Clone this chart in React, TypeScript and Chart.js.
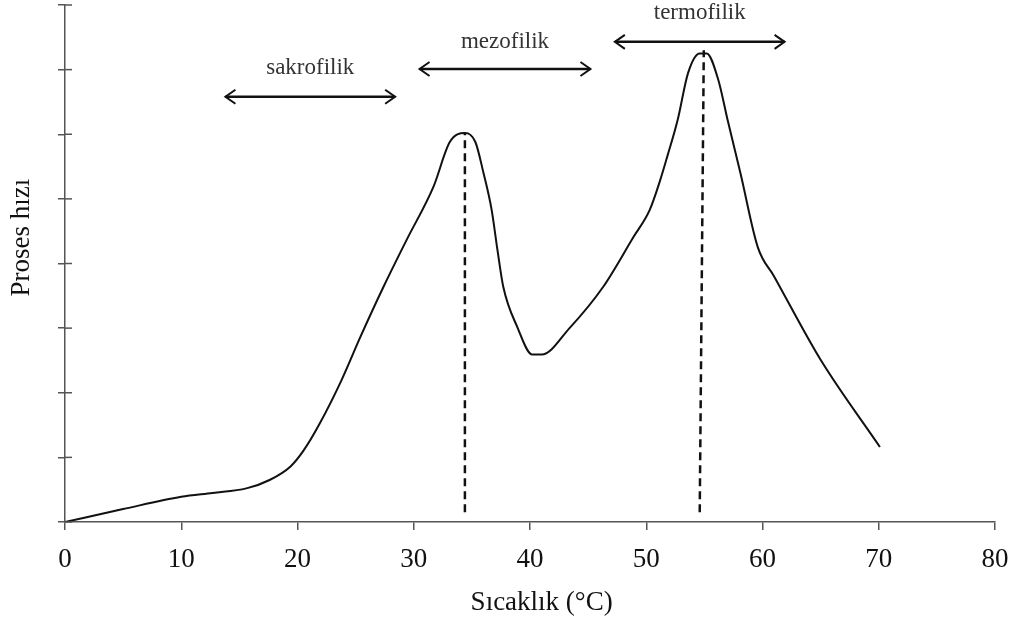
import React, { useEffect, useRef } from "react";
import { Chart, registerables } from "chart.js";

Chart.register(...registerables);

const temps = [0, 5, 10, 12.7, 15.6, 17.6, 19.4, 20.5, 21.9, 23.8, 25.4, 27.4, 29.4, 31.7, 33.1, 34.4, 35.3, 36.0, 36.7, 37.2, 37.7, 38.9, 40.2, 41.0, 43.4, 46.3, 48.9, 50.3, 51.2, 51.8, 52.7, 53.6, 54.6, 55.2, 56.2, 57.0, 58.1, 59.6, 61.0, 65.0, 70.1];
const rates = [0, 0.2, 0.39, 0.45, 0.52, 0.65, 0.86, 1.1, 1.52, 2.2, 2.86, 3.64, 4.37, 5.19, 5.88, 6.02, 5.88, 5.4, 4.83, 4.21, 3.64, 3.02, 2.59, 2.59, 3.0, 3.64, 4.41, 4.83, 5.29, 5.65, 6.22, 6.95, 7.25, 7.25, 6.84, 6.22, 5.4, 4.25, 3.8, 2.51, 1.16];

const peak1X = [34.4, 34.4];
const peak1Y = [0.15, 6.02];
const peak2X = [54.6, 54.95];
const peak2Y = [0.15, 7.3];

const zoneNames = ["sakrofilik", "mezofilik", "termofilik"];
const zoneStart = [13.8, 30.5, 47.3];
const zoneEnd = [28.4, 45.2, 61.9];
const zoneLevel = [6.58, 7.01, 7.43];
const labelLevel = [7.03, 7.43, 7.88];

const xTicks = [0, 10, 20, 30, 40, 50, 60, 70, 80];
const xTitle = "Sıcaklık (°C)";
const yTitle = "Proses hızı";

const serif = "'Liberation Serif', 'Times New Roman', serif";

export default function App() {
  const ref = useRef<HTMLCanvasElement | null>(null);

  useEffect(() => {
    document.body.style.margin = "0";
    const canvas = ref.current;
    if (!canvas) return;

    const annotations = {
      id: "annotations",
      afterDraw(chart: any) {
        const ctx = chart.ctx;
        const xs = chart.scales.x;
        const ys = chart.scales.y;
        ctx.save();
        // inner half of y ticks
        ctx.strokeStyle = "#555";
        ctx.lineWidth = 1.5;
        for (let v = 0; v <= 8; v++) {
          const py = ys.getPixelForValue(v);
          ctx.beginPath();
          ctx.moveTo(xs.left, py);
          ctx.lineTo(xs.left + 7, py);
          ctx.stroke();
        }
        // axis titles
        ctx.fillStyle = "#111";
        ctx.textAlign = "center";
        ctx.textBaseline = "middle";
        ctx.font = `27px ${serif}`;
        ctx.fillText(xTitle, xs.getPixelForValue(41), 603);
        ctx.save();
        ctx.translate(22, ys.getPixelForValue(4.4));
        ctx.rotate(-Math.PI / 2);
        ctx.fillText(yTitle, 0, 0);
        ctx.restore();
        // arrows
        ctx.strokeStyle = "#111";
        ctx.fillStyle = "#333";
        for (let i = 0; i < zoneNames.length; i++) {
          const x1 = xs.getPixelForValue(zoneStart[i]);
          const x2 = xs.getPixelForValue(zoneEnd[i]);
          const py = ys.getPixelForValue(zoneLevel[i]);
          ctx.lineWidth = 2.5;
          ctx.beginPath();
          ctx.moveTo(x1, py);
          ctx.lineTo(x2, py);
          ctx.stroke();
          ctx.lineWidth = 2;
          ctx.beginPath();
          ctx.moveTo(x1 + 10, py - 7);
          ctx.lineTo(x1, py);
          ctx.lineTo(x1 + 10, py + 7);
          ctx.moveTo(x2 - 10, py - 7);
          ctx.lineTo(x2, py);
          ctx.lineTo(x2 - 10, py + 7);
          ctx.stroke();
          ctx.font = `23px ${serif}`;
          ctx.textAlign = "center";
          ctx.textBaseline = "middle";
          ctx.fillText(zoneNames[i], (x1 + x2) / 2, ys.getPixelForValue(labelLevel[i]));
        }
        ctx.restore();
      },
    };

    const chart = new Chart(canvas, {
      type: "line",
      data: {
        datasets: [
          {
            data: temps.map((t, i) => ({ x: t, y: rates[i] })),
            borderColor: "#111",
            borderWidth: 2,
            pointRadius: 0,
            cubicInterpolationMode: "monotone",
            fill: false,
          },
          {
            data: peak1X.map((t, i) => ({ x: t, y: peak1Y[i] })),
            borderColor: "#111",
            borderWidth: 2.5,
            borderDash: [8, 5],
            pointRadius: 0,
          },
          {
            data: peak2X.map((t, i) => ({ x: t, y: peak2Y[i] })),
            borderColor: "#111",
            borderWidth: 2.5,
            borderDash: [8, 5],
            pointRadius: 0,
          },
        ],
      },
      plugins: [annotations],
      options: {
        animation: false,
        responsive: false,
        maintainAspectRatio: false,
        layout: { padding: { top: 5, right: 18, left: 0, bottom: 0 } },
        plugins: { legend: { display: false }, tooltip: { enabled: false } },
        scales: {
          x: {
            type: "linear",
            min: 0,
            max: 80,
            afterBuildTicks: (s: any) => {
              s.ticks = xTicks.map((v) => ({ value: v }));
            },
            afterFit: (s: any) => {
              s.height = 100;
              s.paddingLeft = 0;
              s.paddingRight = 0;
            },
            border: { color: "#555", width: 1.5 },
            grid: { drawOnChartArea: false, drawTicks: true, tickLength: 8, color: "#555", lineWidth: 1.5 },
            ticks: { color: "#111", font: { family: serif, size: 27 }, padding: 14, maxRotation: 0 },
          },
          y: {
            type: "linear",
            min: 0,
            max: 8,
            ticks: { stepSize: 1, display: false },
            afterFit: (s: any) => {
              s.width = 65;
              s.paddingTop = 0;
              s.paddingBottom = 0;
            },
            border: { color: "#555", width: 1.5 },
            grid: { drawOnChartArea: false, drawTicks: true, tickLength: 7, color: "#555", lineWidth: 1.5 },
          },
        },
      },
    } as any);

    return () => chart.destroy();
  }, []);

  return (
    <div style={{ position: "absolute", left: 0, top: 0, width: 1013, height: 622, background: "#fff" }}>
      <canvas ref={ref} width={1013} height={622} style={{ width: 1013, height: 622 }} />
    </div>
  );
}
